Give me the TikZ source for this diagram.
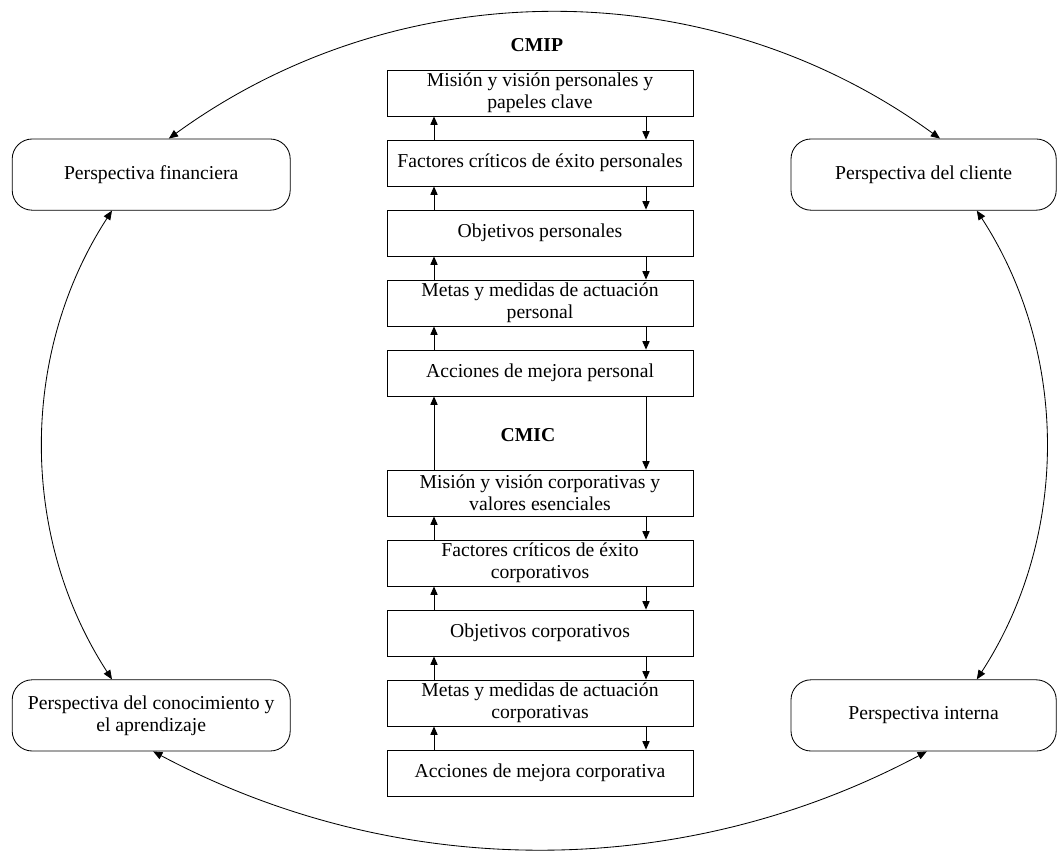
\documentclass[tikz,border=0pt]{standalone}
\usepackage{fontspec}
\setmainfont{Liberation Serif}
\usetikzlibrary{arrows.meta}

\begin{document}
\begin{tikzpicture}[line width=0.6pt,
    paso/.style={draw, minimum width=7.65cm, minimum height=1.15cm, align=center, inner sep=1pt, font=\fontsize{14}{15.5}\selectfont},
    persp/.style={draw, rounded corners=0.5cm, minimum width=6.95cm, minimum height=1.78cm, align=center, inner sep=1pt, font=\fontsize{14}{15.5}\selectfont},
    titulo/.style={font=\fontsize{14}{15.5}\selectfont\bfseries},
    flecha/.style={-{Triangle[length=2.1mm,width=1.8mm]}},
    ciclo/.style={{Triangle[length=2.3mm,width=1.9mm]}-{Triangle[length=2.3mm,width=1.9mm]}}]
    \useasboundingbox (0,0) rectangle (26.425,21.325);

    % CMIP
    \node[titulo] (cmip) at (13.42,20.2) {CMIP};
    \node[paso] (p1) at (13.5,19.0) {Misión y visión personales y\\papeles clave};
    \node[paso] (p2) at (13.5,17.25) {Factores críticos de éxito personales};
    \node[paso] (p3) at (13.5,15.5) {Objetivos personales};
    \node[paso] (p4) at (13.5,13.75) {Metas y medidas de actuación\\personal};
    \node[paso] (p5) at (13.5,12.0) {Acciones de mejora personal};

    % CMIC
    \node[titulo] (cmic) at (13.2,10.45) {CMIC};
    \node[paso] (c1) at (13.5,9.0) {Misión y visión corporativas y\\valores esenciales};
    \node[paso] (c2) at (13.5,7.25) {Factores críticos de éxito\\corporativos};
    \node[paso] (c3) at (13.5,5.5) {Objetivos corporativos};
    \node[paso] (c4) at (13.5,3.75) {Metas y medidas de actuación\\corporativas};
    \node[paso] (c5) at (13.5,2.0) {Acciones de mejora corporativa};

    % Up and down arrows
    \foreach \a/\b in {p1/p2, p2/p3, p3/p4, p4/p5, p5/c1, c1/c2, c2/c3, c3/c4, c4/c5} {
        \draw[flecha] ([xshift=-2.65cm]\b.north) -- ([xshift=-2.65cm]\a.south);
        \draw[flecha] ([xshift=2.65cm]\a.south) -- ([xshift=2.65cm]\b.north);
    }

    % Perspectives
    \node[persp] (fin) at (3.78,16.96) {Perspectiva financiera};
    \node[persp, minimum width=6.63cm] (cli) at (23.09,16.96) {Perspectiva del cliente};
    \node[persp] (con) at (3.78,3.44) {Perspectiva del conocimiento y\\el aprendizaje};
    \node[persp, minimum width=6.63cm] (int) at (23.09,3.44) {Perspectiva interna};

    % Outer cycle
    \draw[ciclo] ([xshift=0.44cm]fin.north) to[out=36, in=144, looseness=0.95] ([xshift=0.41cm]cli.north);
    \draw[ciclo] ([xshift=-0.98cm]fin.south) to[out=237, in=123, looseness=0.93] ([xshift=-0.98cm]con.north);
    \draw[ciclo] ([xshift=1.33cm]cli.south) to[out=303, in=57, looseness=0.93] ([xshift=1.33cm]int.north);
    \draw[ciclo] ([xshift=0.05cm]con.south) to[out=-28, in=208, looseness=0.92] ([xshift=0.08cm]int.south);
\end{tikzpicture}
\end{document}
